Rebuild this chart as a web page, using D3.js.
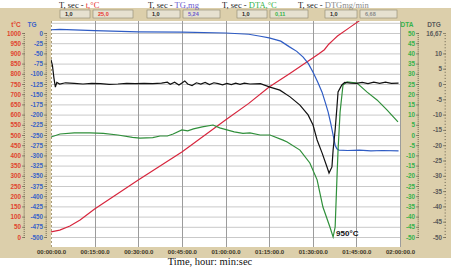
<!DOCTYPE html>
<html>
<head>
<meta charset="utf-8">
<script src="https://cdn.jsdelivr.net/npm/d3@7"></script>
<style>
body{margin:0;background:#fff}
svg{display:block}
</style>
</head>
<body>
<script>
// time is in minutes
const tempTime = [0, 3, 6.5, 10, 15, 30, 45, 60, 68, 75, 82, 90, 92, 94, 95.5, 97, 98.5, 103, 107];
const tempVal  = [25, 34, 54, 83, 137, 279, 417, 573, 655, 735, 800, 877, 897, 918, 945, 965, 985, 1030, 1070];

const tgTime = [0, 3, 15, 30, 45, 60, 68, 72, 75, 79, 82, 84.5, 86.7, 88.5, 90.1, 91.7, 93.2, 94.3, 95.3, 96.2, 97, 97.7, 98.3, 99, 102, 106, 110, 114, 119.5];
const tgVal  = [8, 9, 6, 3, 2, 0, -3, -8, -12, -20, -34, -45, -59, -75, -96, -120, -145, -170, -194, -222, -250, -275, -284, -287, -288, -287, -289, -288, -289];

const dtgTime = [0, 0.5, 1, 1.5, 2, 3, 5, 8, 11, 14, 17, 20, 23, 26, 29, 32, 35, 38, 40, 41, 42.5, 44, 45, 46, 47, 48.5, 50, 51.5, 53, 54.5, 56, 57.5, 59, 60.5, 62, 63.5, 65, 66.5, 68.4, 72, 75.3, 78.7, 82.2, 85.6, 88.4, 90.1, 91.5, 93.2, 94.9, 95.6, 96.6, 97, 97.7, 98.3, 98.7, 100, 101, 103, 105, 107, 109, 111, 113, 115, 117, 119.5];
const dtgVal  = [8, 6, 2, -1, 0.5, 0, 0.4, 0.2, 0, 0.2, 0.1, -0.1, 0, 0.2, 0.1, 0.2, 0.1, 0.3, 0.6, -0.1, 0.6, -0.3, 0.3, 1, 0, -0.5, 0.4, 0, 0.5, -0.2, 0.4, 0.1, -0.3, 0.2, -0.2, 0.3, -0.1, 0.3, 0, 0.1, -1, -2, -4.2, -6.9, -10.1, -13.4, -18.3, -22.5, -27.1, -29.1, -27.1, -21.6, -15, -7.8, -2.6, -0.3, 0.5, 0.3, 0.2, 0.5, 0.1, 0.6, 0.2, 0.6, 0.2, 0.3];

const dtaTime = [0, 3.1, 8, 13.4, 18, 23, 28, 30.6, 35, 37.5, 40, 42, 45, 47, 49, 52, 55.7, 58, 60.5, 63, 66, 68.4, 71.9, 75.3, 79.8, 81.2, 85.6, 89, 91.5, 93.5, 95.9, 97, 97.7, 98.3, 98.7, 99.4, 100.4, 101.8, 105.2, 108.7, 112.1, 115.5, 119.3];
const dtaVal  = [-1, 0.5, 1, 1, 0.8, 0, -1.2, -1.5, -1.3, -0.5, -0.5, 0.5, 2.5, 2, 3, 4, 4.9, 3.5, 2.5, 1.5, 0.8, 1, 0, 0, -2.5, -3.4, -7.4, -13.7, -22, -35.3, -45.1, -50, -45.1, -22, -7.4, 11.3, 24.5, 26, 25.5, 21, 17.2, 12.3, 6.4];

const timeTicks = [0, 15, 30, 45, 60, 75, 90, 105, 120];
const tempTicks = d3.range(0, 1001, 50);
const tgTicks = d3.range(-500, 1, 25);
const dtaTicks = d3.range(-50, 51, 5);
const dtgTicks = [-50, -45, -40, -35, -30, -25, -20, -15, -10, -5, 0, 5, 10, 16.67];

const headers = [
  {x: 59, label: "t,°C", color: "#e8322c", step: "1,0", val: "25,0", bx: [60, 93, 133]},
  {x: 148, label: "TG,mg", color: "#6a5acd", step: "1,0", val: "5,24", bx: [147, 183, 220]},
  {x: 222, label: "DTA,°C", color: "#35b24a", step: "1,0", val: "0,11", bx: [237, 270, 308]},
  {x: 298, label: "DTGmg/min", color: "#8a8a8a", step: "1,0", val: "6,68", bx: [325, 360, 397]}
];

const W = 451, H = 267;
const L = 51, R = 401, T = 21, B = 247;
const beige = "#dccfab";

const svg = d3.select("body").append("svg").attr("width", W).attr("height", H);

// background panels
svg.append("rect").attr("x", 0).attr("y", 8).attr("width", W).attr("height", 250).attr("fill", beige);
svg.append("rect").attr("x", L).attr("y", T).attr("width", R - L).attr("height", B - T).attr("fill", "#fff");

const x = d3.scaleLinear().domain([0, 120]).range([L, 400]);
const yT = d3.scaleLinear().domain([0, 1000]).range([237, 33]);
const yTG = d3.scaleLinear().domain([-500, 0]).range([237, 33]);
const yDTA = d3.scaleLinear().domain([-50, 50]).range([237, 33]);
const yDTG = d3.scaleLinear().domain([-50, 16.67]).range([237, 33]);

// grid
const grid = svg.append("g");
grid.selectAll("line.h").data(d3.range(0, 1051, 50)).join("line")
  .attr("x1", L).attr("x2", R).attr("y1", d => yT(d) + 0.5).attr("y2", d => yT(d) + 0.5)
  .attr("stroke", "#c9c9c9").attr("stroke-width", 1);
grid.selectAll("line.v").data(timeTicks.slice(1)).join("line")
  .attr("x1", d => Math.round(x(d)) + 0.5).attr("x2", d => Math.round(x(d)) + 0.5).attr("y1", T).attr("y2", B)
  .attr("stroke", "#9c9c9c").attr("stroke-width", 1);
svg.append("line").attr("x1", L + 0.5).attr("x2", L + 0.5).attr("y1", T).attr("y2", B)
  .attr("stroke", "#a89c78").attr("stroke-dasharray", "2,2");

// clip
svg.append("clipPath").attr("id", "clip").append("rect")
  .attr("x", L).attr("y", T).attr("width", R - L).attr("height", B - T);

const plot = svg.append("g").attr("clip-path", "url(#clip)");
const series = [
  {t: tempTime, v: tempVal, y: yT, color: "#d7263d"},
  {t: tgTime, v: tgVal, y: yTG, color: "#2f5cc4"},
  {t: dtaTime, v: dtaVal, y: yDTA, color: "#2f8f3a"},
  {t: dtgTime, v: dtgVal, y: yDTG, color: "#111"}
];
series.forEach(s => {
  const line = d3.line().x(d => x(d[0])).y(d => s.y(d[1]));
  plot.append("path").datum(s.t.map((t, i) => [t, s.v[i]]))
    .attr("d", line).attr("fill", "none").attr("stroke", s.color).attr("stroke-width", 1.2);
});

svg.append("text").attr("x", x(97) + 3).attr("y", yDTA(-50) - 1)
  .attr("font-family", "Liberation Sans, Arial, sans-serif").attr("font-weight", "bold")
  .attr("font-size", 8).attr("fill", "#111").text("950°C");

// axes
function styleAxis(g, color) {
  g.select(".domain").remove();
  g.selectAll("line").attr("stroke", "#6b6450").attr("stroke-width", 0.7);
  g.selectAll("text").attr("fill", color).attr("font-size", 6.3)
    .attr("font-family", "Liberation Sans, Arial, sans-serif").attr("font-weight", "bold");
}
function axisPair(axis, minorAxis, xpos, color) {
  svg.append("g").attr("transform", `translate(${xpos},0)`).call(minorAxis).call(g => styleAxis(g, color));
  svg.append("g").attr("transform", `translate(${xpos},0)`).call(axis).call(g => styleAxis(g, color));
}
const plain = d => String(d);

axisPair(d3.axisLeft(yT).tickValues(tempTicks).tickSize(3).tickPadding(1).tickFormat(plain),
  d3.axisLeft(yT).tickValues(d3.range(0, 1001, 10)).tickSize(1.5).tickFormat(""), 25, "#e0442e");
axisPair(d3.axisLeft(yTG).tickValues(tgTicks).tickSize(3).tickPadding(1).tickFormat(plain),
  d3.axisLeft(yTG).tickValues(d3.range(-500, 1, 5)).tickSize(1.5).tickFormat(""), 47, "#3a63c8");
axisPair(d3.axisLeft(yDTA).tickValues(dtaTicks).tickSize(3).tickPadding(1).tickFormat(plain),
  d3.axisLeft(yDTA).tickValues(d3.range(-50, 51, 1)).tickSize(1.5).tickFormat(""), 419, "#35b24a");
axisPair(d3.axisLeft(yDTG).tickValues(dtgTicks).tickSize(3).tickPadding(1).tickFormat(d => d === 16.67 ? "16,67" : String(d)),
  d3.axisLeft(yDTG).tickValues(d3.range(-50, 17, 1)).tickSize(1.5).tickFormat(""), 446, "#5a5a5a");

const pad = n => String(n).padStart(2, "0");
const xAxis = d3.axisBottom(x).tickValues(timeTicks).tickSize(0).tickPadding(3)
  .tickFormat(d => `${pad(Math.floor(d / 60))}:${pad(d % 60)}:00.0`);
svg.append("g").attr("transform", `translate(0,${B})`).call(xAxis).call(g => {
  g.select(".domain").remove();
  g.selectAll("text").attr("fill", "#3a3526").attr("font-size", 6)
    .attr("font-family", "Liberation Sans, Arial, sans-serif").attr("font-weight", "bold");
});

// axis titles
const ttl = (tx, ty, txt, color, anchor) => svg.append("text").attr("x", tx).attr("y", ty)
  .attr("text-anchor", anchor || "middle").attr("font-size", 6.5).attr("font-weight", "bold")
  .attr("font-family", "Liberation Sans, Arial, sans-serif").attr("fill", color).text(txt);
ttl(16, 27, "t°C", "#e0442e");
ttl(32, 27, "TG", "#3a63c8");
ttl(407, 27, "DTA", "#35b24a");
ttl(434, 27, "DTG", "#5a5a5a");

svg.append("text").attr("x", 210).attr("y", 265).attr("text-anchor", "middle")
  .attr("font-family", "Liberation Serif, Times New Roman, serif").attr("font-size", 10.5)
  .attr("fill", "#111").text("Time, hour: min:sec");

// header
headers.forEach(h => {
  const t = svg.append("text").attr("x", h.x).attr("y", 7.5)
    .attr("font-family", "Liberation Serif, Times New Roman, serif").attr("font-size", 8.5).attr("fill", "#222");
  t.append("tspan").text("T, sec - ");
  t.append("tspan").attr("fill", h.color).text(h.label);
  [[h.bx[0], h.bx[1] - 3, h.step, "#222"], [h.bx[1], h.bx[2], h.val, h.color]].forEach(b => {
    svg.append("rect").attr("x", b[0]).attr("y", 10).attr("width", b[1] - b[0]).attr("height", 8)
      .attr("fill", "#e6e1d0").attr("stroke", "#8d866f").attr("stroke-width", 0.6);
    svg.append("text").attr("x", b[0] + 5).attr("y", 16.3)
      .attr("font-family", "Liberation Sans, Arial, sans-serif").attr("font-weight", "bold")
      .attr("font-size", 5.5).attr("fill", b[3]).text(b[2]);
  });
});
</script>
</body>
</html>
